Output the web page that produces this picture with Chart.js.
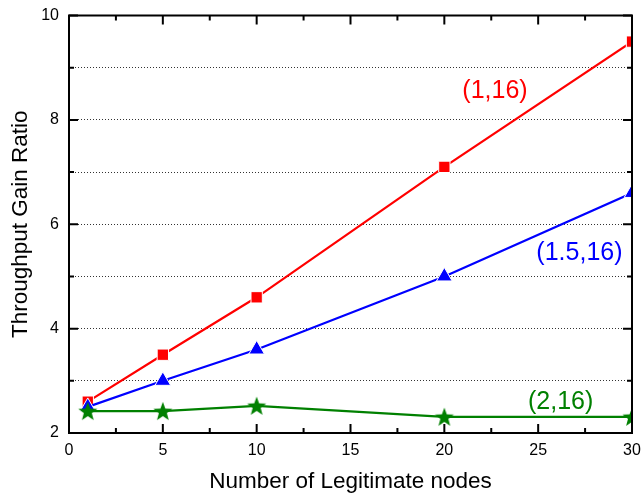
<!DOCTYPE html>
<html>
<head>
<meta charset="utf-8">
<script src="https://cdn.jsdelivr.net/npm/chart.js@4/dist/chart.umd.min.js"></script>
<style>
  html, body { margin: 0; padding: 0; background: #fff; }
  #chart { display: block; }
</style>
</head>
<body>
<canvas id="chart" width="643" height="495"></canvas>
<script>
"use strict";

// data
const nodes      = [1, 5, 10, 20, 30];
const gain_1_16  = [2.6, 3.5, 4.6, 7.1, 9.5];
const gain_15_16 = [2.5, 3.0, 3.6, 5.0, 6.6];
const gain_2_16  = [2.42, 2.42, 2.52, 2.31, 2.31];

const seriesNames = ["(1,16)", "(1.5,16)", "(2,16)"];
// where each series label sits, in data units
const labelX = [22.7, 27.2, 26.2];
const labelY = [8.55, 5.45, 2.6];

const xTicks = [0, 5, 10, 15, 20, 25, 30];
const yTicks = [2, 4, 6, 8, 10];

const COLORS = { red: "#ff0000", blue: "#0000ff", green: "#008000" };
const FONT = "Liberation Sans, Arial, sans-serif";

function starImage(color) {
  const c = document.createElement("canvas");
  c.width = 22; c.height = 22;
  const g = c.getContext("2d");
  g.beginPath();
  for (let i = 0; i < 10; i++) {
    const r = i % 2 ? 4.2 : 10;
    const a = -Math.PI / 2 + i * Math.PI / 5;
    g.lineTo(11 + r * Math.cos(a), 11.8 + r * Math.sin(a));
  }
  g.closePath();
  g.fillStyle = color;
  g.fill();
  return c;
}

function pts(ys) {
  return nodes.map((x, i) => ({ x, y: ys[i] }));
}

function ds(label, data, color, style, radius, order) {
  return {
    label, data: pts(data),
    borderColor: color, backgroundColor: color,
    pointBackgroundColor: color, pointBorderColor: "#fff",
    pointBorderWidth: 1, pointStyle: style, pointRadius: radius,
    pointHoverRadius: radius, borderWidth: 2.2, tension: 0, order,
  };
}

const frame = {
  id: "frame",
  afterDatasetsDraw(chart) {
    const { ctx, chartArea: a, scales: { x, y } } = chart;
    ctx.save();
    ctx.strokeStyle = "#000";
    ctx.lineWidth = 2;
    ctx.strokeRect(a.left, a.top, a.right - a.left, a.bottom - a.top);
    ctx.beginPath();
    for (let v = 0; v <= 30; v += 2.5) {
      const len = v % 5 === 0 ? 9 : 5;
      const px = x.getPixelForValue(v);
      ctx.moveTo(px, a.bottom); ctx.lineTo(px, a.bottom - len);
      ctx.moveTo(px, a.top); ctx.lineTo(px, a.top + len);
    }
    for (let v = 2; v <= 10; v += 1) {
      const len = v % 2 === 0 ? 9 : 5;
      const py = y.getPixelForValue(v);
      ctx.moveTo(a.left, py); ctx.lineTo(a.left + len, py);
      ctx.moveTo(a.right, py); ctx.lineTo(a.right - len, py);
    }
    ctx.stroke();

    ctx.font = "25px " + FONT;
    ctx.textAlign = "center";
    ctx.textBaseline = "middle";
    chart.data.datasets.forEach((d, i) => {
      ctx.fillStyle = d.borderColor;
      ctx.fillText(seriesNames[i], x.getPixelForValue(labelX[i]), y.getPixelForValue(labelY[i]));
    });
    ctx.restore();
  },
};

new Chart(document.getElementById("chart"), {
  type: "line",
  data: {
    datasets: [
      ds(seriesNames[0], gain_1_16, COLORS.red, "rect", 8, 3),
      ds(seriesNames[1], gain_15_16, COLORS.blue, "triangle", 9, 2),
      ds(seriesNames[2], gain_2_16, COLORS.green, starImage(COLORS.green), 10, 1),
    ],
  },
  options: {
    responsive: false,
    animation: false,
    layout: { padding: { top: 15.5, right: 8, left: 0, bottom: 0 } },
    plugins: { legend: { display: false }, tooltip: { enabled: false } },
    scales: {
      x: {
        type: "linear", min: 0, max: 30,
        afterFit: s => { s.height = 62; s.paddingLeft = 0; s.paddingRight = 0; },
        afterBuildTicks: s => { s.ticks = xTicks.map(v => ({ value: v })); },
        ticks: { color: "#000", font: { size: 16, family: FONT }, padding: 8, maxRotation: 0 },
        grid: { display: false, drawTicks: false },
        border: { display: false },
        title: { display: true, text: "Number of Legitimate nodes", color: "#000",
                 font: { size: 22.5, family: FONT }, padding: 0 },
      },
      y: {
        min: 2, max: 10,
        afterFit: s => { s.width = 69; s.paddingTop = 0; s.paddingBottom = 0; },
        afterBuildTicks: s => { s.ticks = [2, 3, 4, 5, 6, 7, 8, 9, 10].map(v => ({ value: v })); },
        ticks: {
          color: "#000", font: { size: 16, family: FONT }, padding: 10,
          callback: v => (yTicks.includes(v) ? String(v) : ""),
        },
        grid: {
          drawTicks: false, lineWidth: 1,
          color: c => (c.tick && c.tick.value > 2 && c.tick.value < 10 ? "#333" : "rgba(0,0,0,0)"),
        },
        border: { display: false, dash: [1, 2] },
        title: { display: true, text: "Throughput Gain Ratio", color: "#000",
                 font: { size: 22.5, family: FONT }, padding: { top: 7, bottom: 0 } },
      },
    },
  },
  plugins: [frame],
});
</script>
</body>
</html>
